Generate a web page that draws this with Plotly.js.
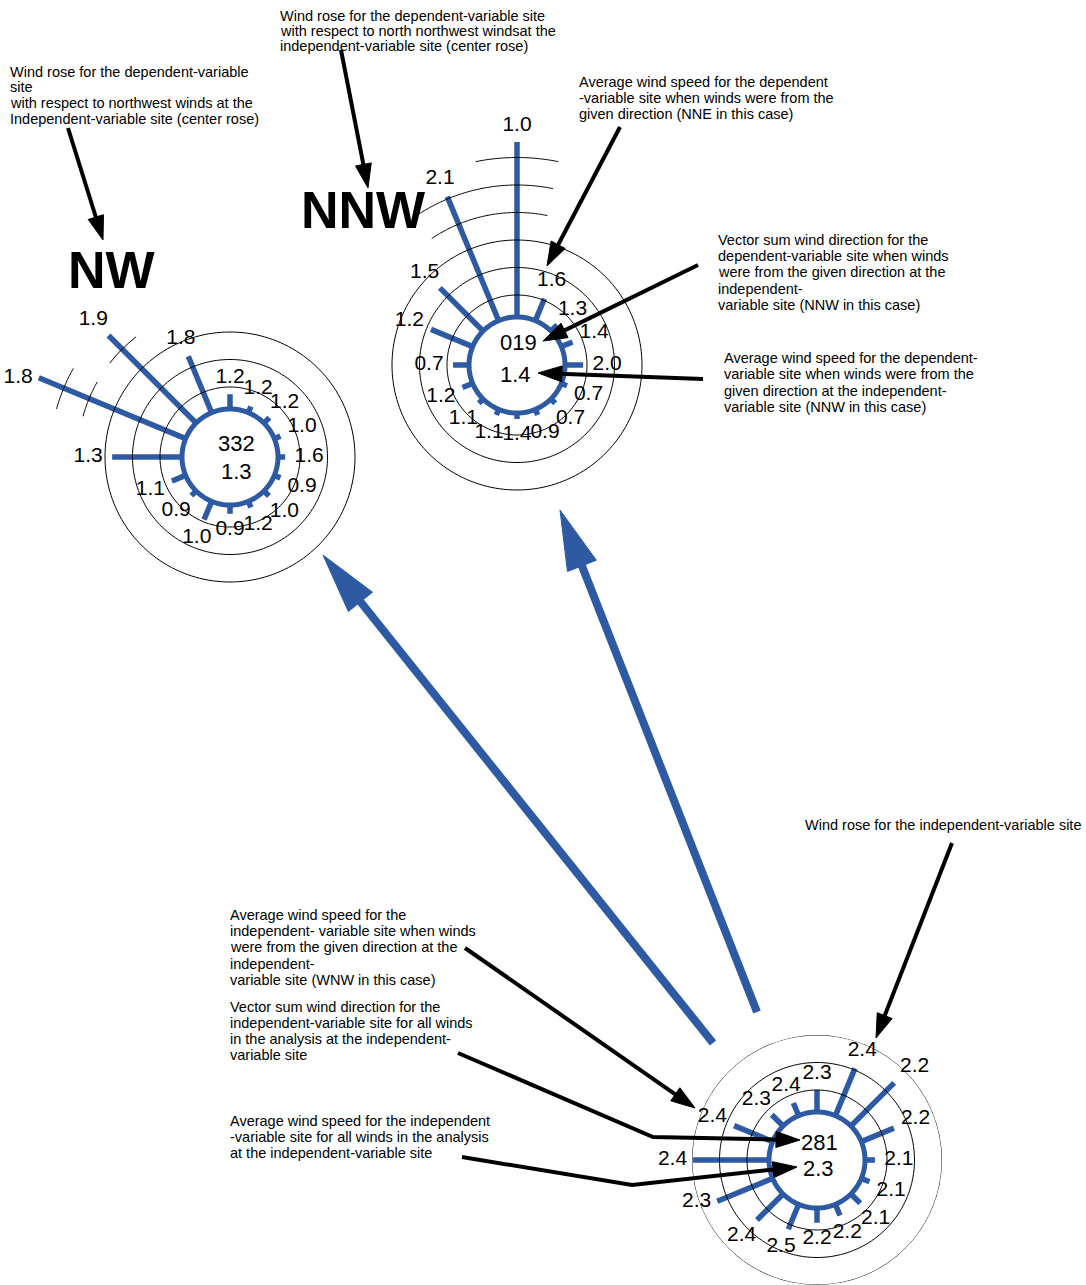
<!DOCTYPE html>
<html>
<head>
<meta charset="utf-8">
<script src="https://cdn.plot.ly/plotly-3.0.1.min.js"></script>
<style>
html,body{margin:0;padding:0;background:#fff;}
#chart{width:1086px;height:1285px;}
</style>
</head>
<body>
<div id="chart"></div>
<script>
// ---------------- DATA ----------------
const directions = ['N','NNE','NE','ENE','E','ESE','SE','SSE','S','SSW','SW','WSW','W','WNW','NW','NNW'];
const dirAngles  = [0,22.5,45,67.5,90,112.5,135,157.5,180,202.5,225,247.5,270,292.5,315,337.5];

// Dependent-variable site, NW winds at the independent site (frequency, %)
const nwFrequency = [2.7,1.2,1.4,1.2,1.3,1.2,1.3,1.2,1.6,3.6,1.2,2.7,12.7,28.9,22.5,11.1];
const nwSpeed     = ['1.2','1.2','1.2','1.0','1.6','0.9','1.0','1.2','0.9','1.0','0.9','1.1','1.3','1.8','1.9','1.8'];
const nwVectorDir = '332';
const nwMeanSpeed = '1.3';

// Dependent-variable site, NNW winds at the independent site
const nnwFrequency = [31.8,4.3,1.6,2.2,3.3,1.1,1.1,1.1,1.1,1.1,1.1,2.0,2.9,8.2,11.1,24.4];
const nnwSpeed     = ['1.0','1.6','1.3','1.4','2.0','0.7','0.7','0.9','1.4','1.1','1.1','1.2','0.7','1.2','1.5','2.1'];
const nnwVectorDir = '019';
const nnwMeanSpeed = '1.4';

// Independent-variable site, all winds
const indFrequency = [4.0,9.3,11.1,6.4,1.8,1.6,2.4,2.2,2.7,4.9,6.7,10.9,13.8,7.6,2.9,2.5];
const indSpeed     = ['2.3','2.4','2.2','2.2','2.1','2.1','2.1','2.2','2.2','2.5','2.4','2.3','2.4','2.4','2.3','2.4'];
const indVectorDir = '281';
const indMeanSpeed = '2.3';

// frequency rings (full circles, then partial arcs on long spokes)
const ringLevels = [4,9,14];
const arcLevels  = [19,24,29];

const roseTitles = ['NW','NNW'];

const noteTexts = [
 ['Wind rose for the dependent-variable','site','with respect to northwest winds at the','Independent-variable site (center rose)'],
 ['Wind rose for the dependent-variable site','with respect to north northwest windsat the','independent-variable site (center rose)'],
 ['Average wind speed for the dependent','-variable site when winds were from the','given direction (NNE in this case)'],
 ['Vector sum wind direction for the','dependent-variable site when winds','were from the given direction at the','independent-','variable site (NNW in this case)'],
 ['Average wind speed for the dependent-','variable site when winds were from the','given direction at the independent-','variable site (NNW in this case)'],
 ['Wind rose for the independent-variable site'],
 ['Average wind speed for the','independent- variable site when winds','were from the given direction at the','independent-','variable site (WNW in this case)'],
 ['Vector sum wind direction for the','independent-variable site for all winds','in the analysis at the independent-','variable site'],
 ['Average wind speed for the independent','-variable site for all winds in the analysis','at the independent-variable site']
];

// ---------------- STYLE / LAYOUT ----------------
const W = 1086, H = 1285;
const BLUE = '#2d5aa3';
const FONT = 'Liberation Sans, Arial, Helvetica, sans-serif';
const PX_PER_UNIT = 5.5;
const HOLE = 48;

const roses = [
 {freq:nwFrequency,  speed:nwSpeed,  vdir:nwVectorDir,  mean:nwMeanSpeed,  cx:230, cy:457,  R:230, arcHalf:7,    dirOff:[6,-14], meanOff:[6,14]},
 {freq:nnwFrequency, speed:nnwSpeed, vdir:nnwVectorDir, mean:nnwMeanSpeed, cx:517, cy:365,  R:242, arcHalf:11.5, dirOff:[1,-22], meanOff:[-2,9]},
 {freq:indFrequency, speed:indSpeed, vdir:indVectorDir, mean:indMeanSpeed, cx:817, cy:1160, R:125, arcHalf:9,    dirOff:[2,-18], meanOff:[1,8]}
];
// fallback placement (relative to spoke tip) for labels that would leave the subplot
const labelPos = ['top center','top center','top right','middle right','middle right','middle right','bottom right','bottom center',
                  'bottom center','bottom center','bottom left','middle left','middle left','middle left','top left','top center'];

const titlePos = [[112,270],[363,210]];
const notePos = [[8,72,15.5],[278,16,15.2],[577,82,16.2],[716,240,16.2],[722,358,16.4],[803,825,16],[228,915,16.2],[228,1007,16],[228,1121,16]];

// arrows: point lists in page pixels (tail ... tip)
const blueArrows = [
 [[713,1043],[323,555]],
 [[757,1012],[560,510]]
];
const blackArrows = [
 [[68,128],[103,240]],
 [[341,50],[368,188]],
 [[620,127],[547,266]],
 [[698,265],[543,341]],
 [[703,379],[538,373]],
 [[952,843],[876,1038]],
 [[465,948],[695,1108]],
 [[458,1053],[653,1137],[800,1140]],
 [[462,1157],[632,1185],[797,1167]]
];

// ---------------- BUILD ----------------
const P = p => (p[0]/W).toFixed(5)+','+(1-p[1]/H).toFixed(5);
const traces = [];
const layout = {
  width:W, height:H, margin:{l:0,r:0,t:0,b:0},
  paper_bgcolor:'#ffffff', plot_bgcolor:'rgba(0,0,0,0)',
  showlegend:false, dragmode:false,
  xaxis:{visible:false}, yaxis:{visible:false},
  annotations:[], shapes:[]
};

roses.forEach((rs,i)=>{
  const key = 'polar'+(i?i+1:'');
  const rMax = (rs.R-HOLE)/PX_PER_UNIT;
  const dom = {
    x:[Math.max(0,(rs.cx-rs.R)/W), Math.min(1,(rs.cx+rs.R)/W)],
    y:[Math.max(0,(H-rs.cy-rs.R)/H), Math.min(1,(H-rs.cy+rs.R)/H)]
  };
  layout[key] = {
    domain:dom, bgcolor:'rgba(0,0,0,0)',
    radialaxis:{range:[-HOLE/PX_PER_UNIT,rMax], showgrid:false, showline:false, showticklabels:false, ticks:''},
    angularaxis:{rotation:90, direction:'clockwise', showgrid:false, showline:false, showticklabels:false, ticks:''}
  };
  // spokes
  const sr=[], st=[];
  rs.freq.forEach((f,k)=>{ sr.push(0,f,null); st.push(dirAngles[k],dirAngles[k],null); });
  traces.push({type:'scatterpolar', subplot:key, mode:'lines', r:sr, theta:st, connectgaps:false,
    line:{color:BLUE,width:5.5}, hoverinfo:'skip', cliponaxis:false});
  // inner circle
  const cr=[], ct=[];
  for(let a=0;a<=360;a+=3){cr.push(0);ct.push(a);}
  traces.push({type:'scatterpolar', subplot:key, mode:'lines', r:cr, theta:ct,
    line:{color:BLUE,width:5}, hoverinfo:'skip', cliponaxis:false});
  // rings
  const gr=[], gt=[];
  ringLevels.forEach(lv=>{ for(let a=0;a<=360;a+=2){gr.push(lv);gt.push(a);} gr.push(null);gt.push(null); });
  arcLevels.forEach(lv=>{
    rs.freq.forEach((f,k)=>{
      if(f>lv){
        for(let a=-rs.arcHalf;a<=rs.arcHalf+0.01;a+=0.5){gr.push(lv);gt.push(dirAngles[k]+a);}
        gr.push(null);gt.push(null);
      }
    });
  });
  traces.push({type:'scatterpolar', subplot:key, mode:'lines', r:gr, theta:gt, connectgaps:false,
    line:{color:'#000000',width:1}, hoverinfo:'skip', cliponaxis:false});
  // speed labels: just beyond the spoke tip
  const A={r:[],t:[],s:[]}, B={r:[],t:[],s:[],p:[]};
  rs.freq.forEach((f,k)=>{
    const rl = f + (16 + 8*Math.abs(Math.sin(dirAngles[k]*Math.PI/180)))/PX_PER_UNIT;
    if(rl < rMax*0.995){ A.r.push(rl); A.t.push(dirAngles[k]); A.s.push(rs.speed[k]); }
    else { B.r.push(f); B.t.push(dirAngles[k]); B.s.push(rs.speed[k]); B.p.push(labelPos[k]); }
  });
  traces.push({type:'scatterpolar', subplot:key, mode:'text', r:A.r, theta:A.t, text:A.s,
    textposition:'middle center', textfont:{family:FONT,size:21,color:'#000'}, hoverinfo:'skip', cliponaxis:false});
  if(B.r.length){
    traces.push({type:'scatterpolar', subplot:key, mode:'markers+text', r:B.r, theta:B.t, text:B.s,
      marker:{size:8, opacity:0}, textposition:B.p,
      textfont:{family:FONT,size:21,color:'#000'}, hoverinfo:'skip', cliponaxis:false});
  }
  // centre texts
  [[rs.vdir,rs.dirOff],[rs.mean,rs.meanOff]].forEach(([t,o])=>{
    layout.annotations.push({xref:'paper',yref:'paper',x:(rs.cx+o[0])/W,y:1-(rs.cy+o[1])/H,
      text:t,showarrow:false,xanchor:'center',yanchor:'middle',font:{family:FONT,size:22,color:'#000'}});
  });
});

roseTitles.forEach((t,i)=>{
  layout.annotations.push({xref:'paper',yref:'paper',x:titlePos[i][0]/W,y:1-titlePos[i][1]/H,text:'<b>'+t+'</b>',
    showarrow:false,xanchor:'center',yanchor:'middle',font:{family:FONT,size:52,color:'#000'}});
});

noteTexts.forEach((lines,i)=>{
  const [x0,y0,dy]=notePos[i];
  lines.forEach((ln,j)=>{
    layout.annotations.push({xref:'paper',yref:'paper',x:x0/W,y:1-(y0+j*dy)/H,text:ln,showarrow:false,
      xanchor:'left',yanchor:'middle',font:{family:FONT,size:14.5,color:'#000'}});
  });
});

function arrow(pts, headLen, headW, width, color){
  const n=pts.length, tip=pts[n-1], prev=pts[n-2];
  const dx=tip[0]-prev[0], dy=tip[1]-prev[1], L=Math.hypot(dx,dy), ux=dx/L, uy=dy/L;
  const bx=tip[0]-ux*headLen, by=tip[1]-uy*headLen, nx=-uy, ny=ux;
  const shaft=pts.slice(0,n-1).concat([[tip[0]-ux*headLen*0.6, tip[1]-uy*headLen*0.6]]);
  layout.shapes.push({type:'path',xref:'paper',yref:'paper',path:'M'+shaft.map(P).join('L'),
    line:{color:color,width:width},fillcolor:'rgba(0,0,0,0)'});
  layout.shapes.push({type:'path',xref:'paper',yref:'paper',
    path:'M'+P(tip)+'L'+P([bx+nx*headW/2,by+ny*headW/2])+'L'+P([bx-nx*headW/2,by-ny*headW/2])+'Z',
    line:{color:color,width:1},fillcolor:color});
}
blueArrows.forEach(a=>arrow(a,60,31,8,BLUE));
blackArrows.forEach(a=>arrow(a,24,16,4,'#000000'));

Plotly.newPlot('chart', traces, layout, {staticPlot:true, displayModeBar:false});
</script>
</body>
</html>
